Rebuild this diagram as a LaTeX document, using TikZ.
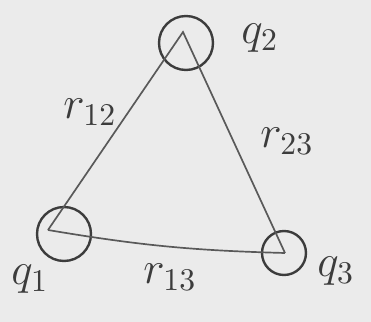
\documentclass[tikz,border=0pt]{standalone}
\usepackage{xcolor}
\usetikzlibrary{positioning}
\definecolor{paper}{HTML}{EBEBEB}
\definecolor{pencil}{HTML}{3C3C3C}
\tikzset{
  charge/.style={draw=pencil,circle,line width=3.4pt,inner sep=0pt},
  edge/.style={draw=pencil!85,line width=2.4pt},
  lbl/.style={text=pencil,font=\Large,scale=4.5,transform shape,inner sep=0pt}
}
\begin{document}
\begin{tikzpicture}[x=0.05cm,y=-0.05cm]
 \fill[paper] (0,0) rectangle (371,322);
 \useasboundingbox (0,0) rectangle (371,322);
 % charges
 \node[charge,minimum size=2.7cm] (c2) at (186,43) {};
 \node[charge,minimum size=2.7cm] (c1) at (64,234) {};
 \node[charge,minimum size=2.2cm] (c3) at (284,253) {};
 \coordinate (v2) at (183,32);
 \coordinate (v1) at (48,230);
 \coordinate (v3) at (285,253);
 % sides
 \draw[edge] (v1) -- (v2) -- (v3);
 \draw[edge] (v1) to[bend right=4] (v3);
 % labels
 \node[lbl] (q2) at (260,38) {$q_2$};
 \node[lbl] (q1) at (30,279) {$q_1$};
 \node[lbl] (q3) at (336,271) {$q_3$};
 \node[lbl] (r12) at (90,112) {$r_{12}$};
 \node[lbl] (r23) at (287,141) {$r_{23}$};
 \node[lbl] (r13) at (170,277) {$r_{13}$};
\end{tikzpicture}
\end{document}
